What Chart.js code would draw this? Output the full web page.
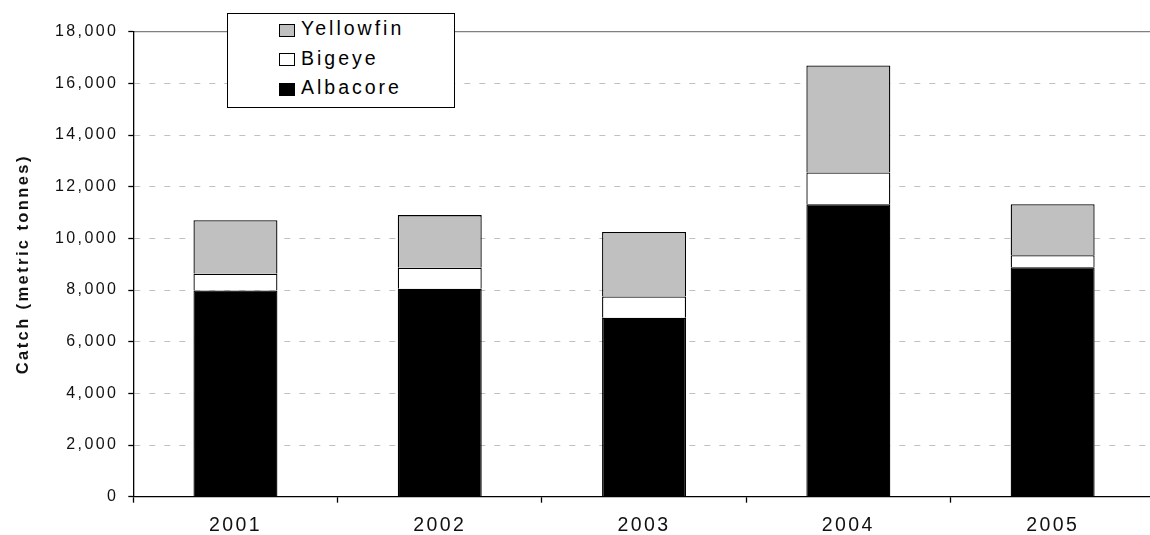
<!DOCTYPE html>
<html>
<head>
<meta charset="utf-8">
<script src="https://cdn.jsdelivr.net/npm/chart.js@4.4.1/dist/chart.umd.min.js"></script>
<style>
  html, body { margin: 0; padding: 0; background: #fff; overflow: hidden; }
  #wrap { position: relative; width: 1160px; height: 535px; }
  #legend {
    position: absolute; left: 227px; top: 13px; width: 228px; height: 95px;
    box-sizing: border-box; border: 1px solid #000; background: #fff;
    font-family: 'Liberation Sans', Arial, sans-serif; font-size: 19.5px;
    letter-spacing: 3px; color: #000; padding-left: 51px;
  }
  #legend .row { height: 29.5px; display: flex; align-items: center; }
  #legend .sw {
    width: 16px; height: 13px; box-sizing: border-box; border: 1px solid #000;
    margin-right: 6px; position: relative; top: 1.5px; flex: none;
  }
</style>
</head>
<body>
<div id="wrap">
  <canvas id="c"></canvas>
  <div id="legend"></div>
</div>
<script>
// Annual catch by species (metric tonnes)
const years = ['2001', '2002', '2003', '2004', '2005'];
const albacore = [7980, 8050, 6930, 11320, 8880];
const bigeye = [650, 810, 820, 1230, 470];
const yellowfin = [2070, 2040, 2500, 4140, 1970];

const yMin = 0;
const yMax = 18000;
const yStep = 2000;

const FONT = "'Liberation Sans', Arial, sans-serif";

// Spread characters a little, like the original typesetting
const letterSpacing = {
  id: 'letterSpacing',
  beforeDraw(chart) { chart.ctx.letterSpacing = '2.4px'; }
};

const chart = new Chart(document.getElementById('c'), {
  type: 'bar',
  data: {
    labels: years,
    datasets: [
      { label: 'Albacore', data: albacore, backgroundColor: '#000000' },
      { label: 'Bigeye', data: bigeye, backgroundColor: '#ffffff' },
      { label: 'Yellowfin', data: yellowfin, backgroundColor: '#c0c0c0' }
    ].map(d => Object.assign(d, {
      borderColor: '#000', borderWidth: 1.3,
      barPercentage: 0.411, categoryPercentage: 1
    }))
  },
  options: {
    responsive: true,
    maintainAspectRatio: false,
    animation: false,
    devicePixelRatio: 1,
    layout: { padding: { top: 31.7, right: 5.2, left: 0, bottom: 0 } },
    plugins: { legend: { display: false }, tooltip: { enabled: false } },
    scales: {
      x: {
        stacked: true,
        position: 'bottom',
        grid: {
          offset: true, drawOnChartArea: false, drawTicks: true,
          tickLength: 6, tickColor: '#000', tickWidth: 1.3
        },
        border: { color: '#000', width: 1.3 },
        ticks: {
          font: { family: FONT, size: 19.5 }, color: '#111',
          padding: 11, maxRotation: 0, autoSkip: false
        },
        afterFit(s) { s.height = 38.3; }
      },
      xTop: {
        type: 'category',
        axis: 'x',
        position: 'top',
        grid: { display: false, drawTicks: false },
        ticks: { display: false },
        border: { color: '#808080', width: 1.3 },
        afterFit(s) { s.height = 0; }
      },
      y: {
        stacked: true,
        min: yMin,
        max: yMax,
        ticks: {
          stepSize: yStep,
          callback: v => v.toLocaleString('en-US'),
          font: { family: FONT, size: 16 }, color: '#111', padding: 10
        },
        grid: {
          color: c => (c.tick && (c.tick.value === yMin || c.tick.value === yMax)) ? 'rgba(0,0,0,0)' : '#c0c0c0',
          lineWidth: 1, drawTicks: true, tickLength: 5,
          tickColor: '#000', tickWidth: 1.3
        },
        border: { color: '#000', width: 1.3, dash: [6, 9] },
        title: {
          display: true, text: 'Catch (metric tonnes)', color: '#111',
          font: { family: FONT, size: 16.5, weight: 'bold' },
          padding: { top: 13.6, bottom: 0 }
        },
        afterFit(s) { s.width = 133.3; }
      }
    }
  },
  plugins: [letterSpacing]
});

// Legend box, listed top to bottom in stacking order
const legend = document.getElementById('legend');
chart.data.datasets.slice().reverse().forEach(ds => {
  const row = document.createElement('div');
  row.className = 'row';
  const sw = document.createElement('span');
  sw.className = 'sw';
  sw.style.background = ds.backgroundColor;
  const txt = document.createElement('span');
  txt.textContent = ds.label;
  row.appendChild(sw);
  row.appendChild(txt);
  legend.appendChild(row);
});
</script>
</body>
</html>
